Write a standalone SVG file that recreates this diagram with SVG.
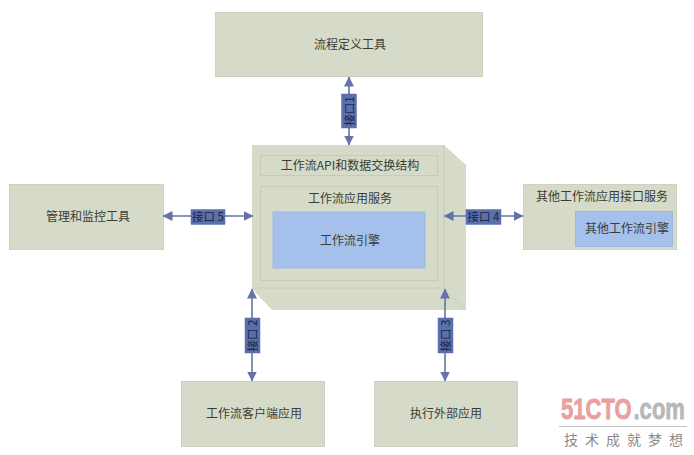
<svg xmlns="http://www.w3.org/2000/svg" width="694" height="455" viewBox="0 0 694 455">
<style>
text{font-family:"Noto Sans CJK SC","Liberation Serif",serif;fill:#3a3d36;text-anchor:middle;dominant-baseline:central}
.box{fill:#d6dbc9;stroke:#cdd2c0;stroke-width:1}
.inner{fill:#d6dbc9;stroke:#c6cbb8;stroke-width:1}
.blue{fill:#a5c0ea;stroke:#9db8e0;stroke-width:1}
.t{font-size:12px}
.lab{fill:#5a70ad;stroke:#5a70ad;stroke-width:.5}
.ltxt{font-size:11.5px;fill:#1d2444}
.line{stroke:#6474a8;stroke-width:1.6;fill:none;marker-start:url(#a);marker-end:url(#a)}
.wm{font-family:"Liberation Sans",sans-serif;font-weight:700;font-size:29px;text-anchor:start;stroke-width:.8}
</style>
<defs>
<marker id="a" viewBox="0 0 10 10" refX="9.500" refY="5" markerUnits="userSpaceOnUse" markerWidth="10" markerHeight="10" orient="auto-start-reverse"><path d="M0 0L10 5L0 10Z" fill="#6474a8"/></marker>
</defs>
<rect width="694" height="455" fill="#fff"/>
<g id="node-top"><rect class="box" x="215.500" y="12.500" width="267" height="64"/><text class="t" x="350" y="43.500">流程定义工具</text></g>
<g id="node-left"><rect class="box" x="9.500" y="184.500" width="154" height="65"/><text class="t" x="88" y="215.500">管理和监控工具</text></g>
<g id="node-right"><rect class="box" x="523.500" y="184.500" width="153" height="65"/><text class="t" x="602" y="195">其他工作流应用接口服务</text><rect class="blue" x="575.500" y="211.500" width="97" height="35"/><text class="t" x="627" y="227">其他工作流引擎</text></g>
<g id="node-bl"><rect class="box" x="181.500" y="381.500" width="143" height="65"/><text class="t" x="254" y="412.500">工作流客户端应用</text></g>
<g id="node-br"><rect class="box" x="374.500" y="381.500" width="143" height="65"/><text class="t" x="446" y="412.500">执行外部应用</text></g>
<g id="node-center">
<path d="M252 145H444L466 165V310H272L252 289Z" fill="#d6dbc9"/>
<path d="M444 145V288H252M444 288L466 310" fill="none" stroke="#c8cdba" stroke-width="1"/>
<rect class="inner" x="260.500" y="155.500" width="177" height="20"/>
<text class="t" x="350" y="164">工作流API和数据交换结构</text>
<rect class="inner" x="260.500" y="186.500" width="177" height="94"/>
<text class="t" x="350" y="197.500">工作流应用服务</text>
<rect class="blue" x="273" y="212" width="152" height="56"/>
<text class="t" x="350" y="239.500">工作流引擎</text>
</g>
<g id="connectors">
<path class="line" d="M349 77V145"/>
<path class="line" d="M163 216H253"/>
<path class="line" d="M444 216H523"/>
<path class="line" d="M252 289V381"/>
<path class="line" d="M445 289V381"/>
</g>
<g id="labels">
<g id="if1"><rect class="lab" x="341.500" y="94" width="15" height="34"/><text class="ltxt" transform="translate(348.500 111) rotate(-90)">接口1</text></g>
<g id="if5"><rect class="lab" x="191" y="209.500" width="34" height="15"/><text class="ltxt" x="208" y="216">接口 5</text></g>
<g id="if4"><rect class="lab" x="466" y="209.500" width="35" height="15"/><text class="ltxt" x="483.500" y="216">接口 4</text></g>
<g id="if2"><rect class="lab" x="245" y="318" width="15" height="35"/><text class="ltxt" transform="translate(252 335.500) rotate(-90)">接口 2</text></g>
<g id="if3"><rect class="lab" x="438" y="318" width="15" height="35"/><text class="ltxt" transform="translate(445 335.500) rotate(-90)">接口 3</text></g>
</g>
<g id="watermark">
<text class="wm" transform="translate(561 409) scale(.76 1)" style="fill:#e8a0a0;stroke:#e8a0a0">51CTO</text>
<text class="wm" transform="translate(633.500 409) scale(.76 1)" style="fill:#b8b8b8;stroke:#b8b8b8">.com</text>
<rect x="559" y="426" width="128" height="1" fill="#c4c4c4"/>
<text x="627" y="439" style="font-size:14px;fill:#8a8a8a;letter-spacing:7px">技术成就梦想</text>
</g>
</svg>
